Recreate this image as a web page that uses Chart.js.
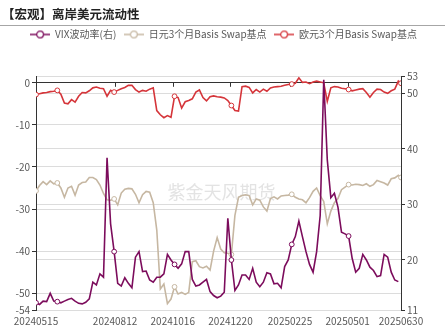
<!DOCTYPE html>
<html>
<head>
<meta charset="utf-8">
<script src="https://cdn.jsdelivr.net/npm/chart.js@4.4.1/dist/chart.umd.min.js"></script>
<style>
  html, body { margin: 0; padding: 0; background: #fff; }
  #wrap { width: 445px; height: 333px; }
</style>
</head>
<body>
<div id="wrap"><canvas id="chartLiquidity"></canvas></div>
<script>
(function () {
  "use strict";

  // x = calendar days since 2024-05-15, one sample every 4 days, last point 2025-06-30
  const sampleDays = [];
  for (let d = 0; d <= 408; d += 4) sampleDays.push(d);
  sampleDays.push(411);

  // VIX (right axis)
  const vix = [
    12.3, 12.0, 12.6, 12.5, 14.0, 12.6, 12.5, 12.3, 12.6, 12.9, 13.1, 12.6, 12.2,
    12.1, 12.4, 13.0, 16.0, 15.5, 17.5, 16.9, 38.4, 26.5, 21.5, 15.8, 15.3, 16.8,
    15.8, 15.0, 20.5, 21.5, 17.9, 18.0, 16.4, 16.0, 16.9, 16.9, 17.5, 21.0, 20.0,
    19.2, 18.5, 19.3, 21.5, 21.5, 16.5, 15.3, 15.5, 16.0, 16.5, 14.3, 13.6, 13.2,
    13.5, 14.2, 27.5, 20.0, 14.5, 15.5, 17.3, 17.3, 16.5, 18.5, 16.0, 15.2, 16.0,
    17.7, 17.5, 15.7, 15.8, 15.0, 18.8, 20.0, 22.8, 24.2, 27.0, 24.2, 21.5, 19.2,
    17.8, 21.5, 28.0, 52.4, 38.0, 31.2, 32.0, 29.5, 25.0, 24.7, 24.3, 20.3, 17.8,
    18.5, 21.0, 20.0, 18.7, 18.1, 17.0, 17.2, 21.0, 20.5, 17.8, 16.4, 16.1
  ];

  // 日元3个月 Basis Swap (left axis)
  const jpyBasis = [
    -25.7, -24.4, -23.5, -24.2, -23.3, -24.0, -23.8, -25.0, -27.2, -25.0, -24.6, -26.7, -24.3,
    -23.7, -23.6, -22.5, -22.5, -23.0, -24.3, -26.3, -27.8, -27.9, -27.6, -29.0, -26.2, -25.3,
    -25.1, -25.2, -26.5, -28.5, -26.6, -25.8, -26.0, -28.5, -35.0, -49.0, -47.8, -52.5, -51.4,
    -48.5, -50.2, -49.8, -50.3, -49.8, -42.5, -42.3, -43.7, -44.0, -43.6, -44.5, -40.0, -36.8,
    -39.5, -40.4, -40.5, -40.8, -31.5, -27.2, -26.8, -26.6, -26.8, -29.0, -27.6, -27.9, -29.5,
    -30.5, -27.5, -27.1, -27.6, -26.9, -26.8, -26.7, -26.5, -27.2, -27.6, -27.8, -28.5, -27.3,
    -25.8, -25.0, -26.8, -28.2, -33.5, -30.5, -28.5, -27.5, -25.4, -24.8, -24.2, -24.3, -24.1,
    -24.2, -24.4, -24.0, -24.6, -24.2, -23.2, -23.5, -23.8, -24.3, -22.8, -22.6, -22.0, -22.5
  ];

  // 欧元3个月 Basis Swap (left axis)
  const eurBasis = [
    -2.8, -2.6, -2.4, -2.3, -2.1, -2.0, -1.8, -2.7, -4.8, -5.0, -4.0, -4.6, -3.2,
    -2.3, -2.4, -1.9, -1.2, -1.0, -1.3, -1.4, -3.2, -1.8, -2.2, -1.8, -1.4, -1.1,
    -0.6, -0.6, -1.6, -2.2, -1.8, -2.0, -1.5, -1.2, -6.6, -7.6, -8.3, -7.8, -8.2,
    -3.2, -3.5, -6.0, -4.5, -4.2, -3.8, -2.2, -1.7, -3.5, -4.3, -3.3, -3.1, -3.3,
    -3.4, -3.6, -4.2, -5.4, -6.6, -6.7, -0.9, -0.8, -1.1, -2.4, -1.6, -2.2, -1.5,
    -2.0, -1.2, -1.0, -0.9, -0.8, -0.6, -0.4, -0.3, -0.1, 1.2, 0.1, 0.2, -0.2,
    0.2, 0.4, 0.2, 0.0, -4.4, -1.2, -0.9, -1.0, -1.3, -1.4, -1.6, -1.9, -1.7,
    -1.5, -1.4, -2.3, -3.4, -2.3, -1.5, -1.6, -2.2, -2.5, -1.9, -1.5, 0.4, -0.1
  ];

  const xTickDays = [0, 89, 154, 219, 286, 351, 411];
  const xTickLabels = ["20240515", "20240812", "20241016", "20241220", "20250225", "20250501", "20250630"];
  const leftTicks = [0, -10, -20, -30, -40, -50, -54];
  const rightTicks = [53, 50, 40, 30, 20, 11];
  const markerIdx = [0, 6, 22, 39, 55, 72, 88, 103];

  const FONT = "'Noto Sans CJK SC', 'Noto Sans', sans-serif";
  const C_VIX = "#7c0c5c";
  const C_JPY = "#c6b7a2";
  const C_EUR = "#d5353a";
  const TXT = "#595959";
  const GRID = "#dcdcdc";
  const AXIS = "#333";

  function toPoints(vals) {
    return vals.map((v, i) => ({ x: sampleDays[i], y: v }));
  }

  function legendIcon(color) {
    const c = document.createElement("canvas");
    c.width = 20; c.height = 10;
    const g = c.getContext("2d");
    g.strokeStyle = color;
    g.lineWidth = 1.5;
    g.beginPath(); g.moveTo(0, 5); g.lineTo(20, 5); g.stroke();
    g.beginPath(); g.arc(10, 5, 3.4, 0, Math.PI * 2);
    g.fillStyle = "#fff"; g.fill();
    g.lineWidth = 1.2; g.stroke();
    return c;
  }
  const icons = [legendIcon(C_VIX), legendIcon(C_JPY), legendIcon(C_EUR)];

  function lineSet(label, vals, color, axis) {
    return {
      label: label,
      data: toPoints(vals),
      yAxisID: axis,
      borderColor: color,
      backgroundColor: color,
      borderWidth: 1.6,
      tension: 0,
      pointRadius: ctx => markerIdx.includes(ctx.dataIndex) ? 2.4 : 0,
      pointBackgroundColor: "#fff",
      pointBorderColor: color,
      pointBorderWidth: 1,
      fill: false
    };
  }

  // extra room under the legend
  const legendGap = {
    id: "legendGap",
    beforeInit(chart) {
      const fit = chart.legend.fit;
      chart.legend.fit = function () {
        fit.call(this);
        this.height += 27;
      };
    }
  };

  // title rule + x tick marks on the zero line + watermark
  const decor = {
    id: "decor",
    beforeDatasetsDraw(chart) {
      const { ctx, chartArea, scales } = chart;
      ctx.save();
      ctx.font = "18px " + FONT;
      ctx.fillStyle = "rgba(200,200,200,0.5)";
      ctx.textAlign = "center";
      ctx.textBaseline = "middle";
      ctx.fillText("紫金天风期货", (chartArea.left + chartArea.right) / 2 + 3, (chartArea.top + chartArea.bottom) / 2 - 1);

      const y0 = scales.yL.getPixelForValue(0);
      ctx.strokeStyle = AXIS;
      ctx.lineWidth = 1;
      xTickDays.forEach(d => {
        const x = Math.round(scales.x.getPixelForValue(d)) + 0.5;
        ctx.beginPath(); ctx.moveTo(x, y0); ctx.lineTo(x, y0 + 4); ctx.stroke();
      });
      ctx.restore();
    },
    afterDraw(chart) {
      const { ctx } = chart;
      ctx.save();
      ctx.strokeStyle = "#a6a6a6";
      ctx.lineWidth = 1;
      ctx.beginPath(); ctx.moveTo(0, 25.5); ctx.lineTo(chart.width, 25.5); ctx.stroke();
      ctx.restore();
    }
  };

  const canvas = document.getElementById("chartLiquidity");

  new Chart(canvas, {
    type: "line",
    data: {
      datasets: [
        lineSet("VIX波动率(右)", vix, C_VIX, "yR"),
        lineSet("日元3个月Basis Swap基点", jpyBasis, C_JPY, "yL"),
        lineSet("欧元3个月Basis Swap基点", eurBasis, C_EUR, "yL")
      ]
    },
    options: {
      responsive: true,
      maintainAspectRatio: false,
      animation: false,
      layout: { padding: { left: 2, right: 0, top: 0, bottom: 1 } },
      plugins: {
        title: {
          display: true,
          text: "【宏观】离岸美元流动性",
          align: "start",
          color: "#222",
          font: { family: FONT, size: 12.5, weight: "bold" },
          padding: { top: 7, bottom: 0 }
        },
        legend: {
          display: true,
          position: "top",
          labels: {
            color: TXT,
            font: { family: FONT, size: 10 },
            usePointStyle: true,
            pointStyleWidth: 20,
            boxHeight: 10,
            padding: 7.5,
            generateLabels(chart) {
              const items = Chart.defaults.plugins.legend.labels.generateLabels(chart);
              items.forEach(it => { it.pointStyle = icons[it.datasetIndex]; });
              return items;
            }
          }
        },
        tooltip: { enabled: false }
      },
      scales: {
        x: {
          type: "linear",
          min: 0,
          max: 411,
          grid: { display: false, drawTicks: false },
          border: { display: false },
          afterBuildTicks: s => { s.ticks = xTickDays.map(v => ({ value: v })); },
          ticks: {
            autoSkip: false,
            maxRotation: 0,
            padding: 5,
            color: TXT,
            font: { family: FONT, size: 10 },
            callback: v => {
              const i = xTickDays.indexOf(v);
              return i >= 0 ? xTickLabels[i] : "";
            }
          }
        },
        yL: {
          type: "linear",
          position: "left",
          min: -54,
          max: 1.5,
          afterBuildTicks: s => { s.ticks = leftTicks.map(v => ({ value: v })); },
          afterFit: s => { s.width = 34; },
          grid: {
            color: c => (c.tick && c.tick.value === 0) ? AXIS : GRID,
            tickColor: AXIS,
            tickLength: 4
          },
          border: { color: AXIS, width: 1 },
          ticks: { color: TXT, padding: 2, font: { family: FONT, size: 10 } }
        },
        yR: {
          type: "linear",
          position: "right",
          min: 11,
          max: 53,
          afterBuildTicks: s => { s.ticks = rightTicks.map(v => ({ value: v })); },
          afterFit: s => { s.width = 44; },
          grid: { color: GRID, tickColor: AXIS, tickLength: 4 },
          border: { color: AXIS, width: 1 },
          ticks: { color: TXT, padding: 2, font: { family: FONT, size: 10 } }
        }
      }
    },
    plugins: [legendGap, decor]
  });
})();
</script>
</body>
</html>
